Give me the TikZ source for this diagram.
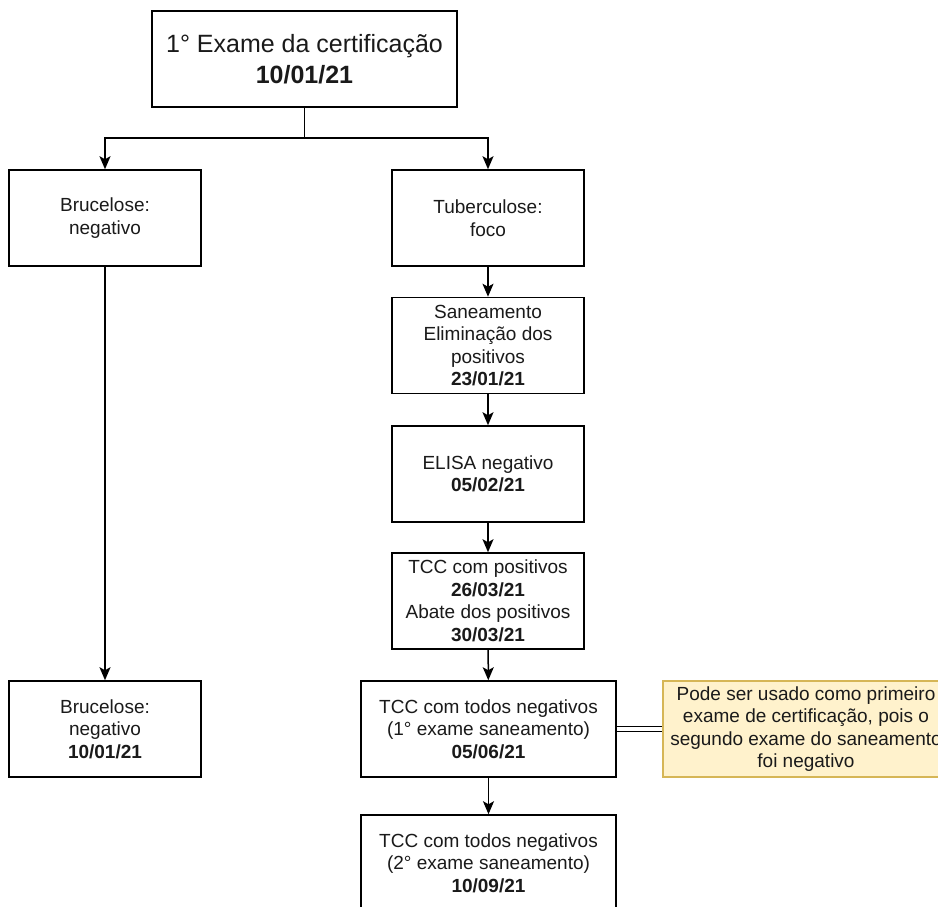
\documentclass[tikz,border=0pt]{standalone}
\usepackage{fontspec}
\setmainfont{Liberation Sans}
\usetikzlibrary{arrows.meta}
\definecolor{notefill}{HTML}{FFF2CC}
\definecolor{noteline}{HTML}{D6B656}
\definecolor{txt}{HTML}{1A1A1A}
\tikzset{
  box/.style={draw=black, line width=1.5pt, fill=white, text=txt, align=center,
    inner sep=0pt, minimum width=192pt, minimum height=96pt,
    font=\fontsize{19}{22.5}\selectfont},
  widebox/.style={box, minimum width=255pt},
  notebox/.style={box, draw=noteline, fill=notefill, line width=1.2pt, minimum width=286pt},
  topbox/.style={box, minimum width=305pt, font=\fontsize{25}{31}\selectfont},
  arr/.style={draw=black, line width=1.5pt, -{Stealth[length=13pt,width=11pt,inset=3pt]}},
  link/.style={draw=black, line width=1.2pt, double=white, double distance=3.5pt}
}
\begin{document}
\begin{tikzpicture}[x=1pt,y=-1pt]
\useasboundingbox (0,0) rectangle (938,907);
\clip (0,0) rectangle (938,907);
\fill[white] (0,0) rectangle (938,907);

\node[topbox] (top) at (304.5,59) {1° Exame da certificação\\\textbf{10/01/21}};
\coordinate (split) at (304.5,138);

\node[box] (bru) at (105,218) {Brucelose:\\negativo};
\node[box] (tub) at (488,218) {Tuberculose:\\foco};
\node[box] (san) at (488,345.5) {Saneamento\\Eliminação dos\\positivos\\\textbf{23/01/21}};
\node[box] (elisa) at (488,474) {ELISA negativo\\\textbf{05/02/21}};
\node[box] (tccpos) at (488,601) {TCC com positivos\\\textbf{26/03/21}\\Abate dos positivos\\\textbf{30/03/21}};
\node[widebox] (tcc1) at (488.5,729) {TCC com todos negativos\\(1° exame saneamento)\\\textbf{05/06/21}};
\node[widebox] (tcc2) at (488.5,863) {TCC com todos negativos\\(2° exame saneamento)\\\textbf{10/09/21}};
\node[box] (brubot) at (105,729) {Brucelose:\\negativo\\\textbf{10/01/21}};
\node[notebox] (note) at (806,729) {Pode ser usado como primeiro\\exame de certificação, pois o\\segundo exame do saneamento\\foi negativo};

\draw[line width=1.5pt] (top.south) -- (split);
\draw[arr] (split) -| (bru.north);
\draw[arr] (split) -| (tub.north);
\draw[arr] (bru) -- (brubot);
\draw[arr] (tub) -- (san);
\draw[arr] (san) -- (elisa);
\draw[arr] (elisa) -- (tccpos);
\draw[arr] (tccpos) -- (tcc1);
\draw[arr] (tcc1) -- (tcc2);
\draw[link] (tcc1.east) -- (note.west);
\end{tikzpicture}
\end{document}
